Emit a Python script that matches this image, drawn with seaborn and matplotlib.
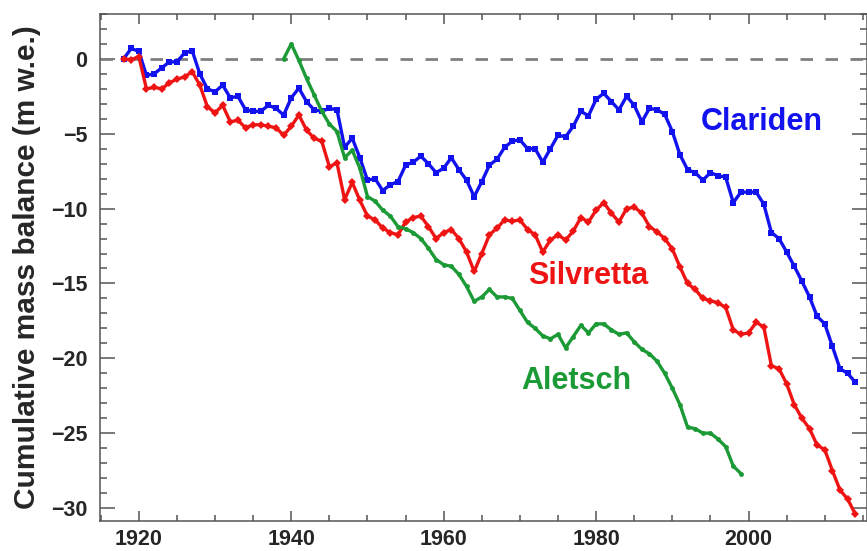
import numpy as np
import pandas as pd
import matplotlib
matplotlib.use('Agg')
import matplotlib.pyplot as plt
import seaborn as sns
from matplotlib.ticker import MultipleLocator

# cumulative mass balance (m w.e.)
clariden_years = list(range(1918, 2015))
clariden = [0.0, 0.7, 0.5, -1.1, -1.0, -0.6, -0.2, -0.2, 0.4, 0.55,
            -1.0, -2.0, -2.2, -1.75, -2.6, -2.5, -3.4, -3.5, -3.5, -3.1,
            -3.3, -3.75, -2.6, -1.95, -2.85, -3.4, -3.5, -3.3, -3.4, -5.9,
            -5.3, -6.6, -8.1, -8.0, -8.8, -8.4, -8.2, -7.1, -6.9, -6.5,
            -7.0, -7.6, -7.3, -6.6, -7.4, -8.1, -9.2, -8.2, -7.1, -6.7,
            -5.9, -5.5, -5.4, -6.0, -6.0, -6.9, -6.0, -5.1, -5.2, -4.5,
            -3.5, -3.8, -2.7, -2.3, -2.85, -3.4, -2.5, -3.1, -4.2, -3.3,
            -3.4, -3.7, -4.85, -6.4, -7.4, -7.6, -8.1, -7.6, -7.8, -7.9,
            -9.6, -8.9, -8.9, -8.9, -9.7, -11.6, -12.0, -12.9, -13.85, -14.85,
            -15.9, -17.2, -17.7, -19.2, -20.7, -21.0, -21.6]

silvretta_years = list(range(1918, 2015))
silvretta = [0.0, -0.05, 0.15, -2.0, -1.9, -2.0, -1.6, -1.35, -1.2, -0.85,
             -1.75, -3.2, -3.6, -3.1, -4.2, -4.1, -4.6, -4.4, -4.4, -4.5,
             -4.6, -5.1, -4.5, -3.75, -4.75, -5.3, -5.5, -7.2, -6.95, -9.4,
             -8.25, -9.45, -10.5, -10.75, -11.3, -11.6, -11.75, -10.9, -10.6, -10.5,
             -11.2, -12.0, -11.6, -11.4, -12.0, -12.9, -14.2, -13.0, -11.75, -11.3,
             -10.75, -10.85, -10.75, -11.4, -11.75, -12.9, -12.1, -11.75, -12.1, -11.5,
             -10.6, -10.9, -10.1, -9.6, -10.3, -10.9, -10.0, -9.9, -10.3, -11.2,
             -11.55, -12.0, -12.7, -13.9, -15.0, -15.4, -16.0, -16.15, -16.3, -16.6,
             -18.1, -18.4, -18.3, -17.6, -17.9, -20.5, -20.7, -21.7, -23.1, -24.0,
             -24.7, -25.8, -26.1, -27.5, -28.8, -29.4, -30.4]

aletsch_years = list(range(1939, 2000))
aletsch = [0.0, 1.0, -0.1, -1.3, -2.4, -3.5, -4.35, -4.85, -6.6, -6.1,
           -7.3, -9.2, -9.5, -10.1, -10.5, -11.2, -11.35, -11.6, -12.0, -12.65,
           -13.4, -13.75, -13.85, -14.4, -15.2, -16.2, -15.9, -15.4, -15.9, -15.9,
           -16.0, -16.8, -17.6, -18.0, -18.5, -18.7, -18.4, -19.3, -18.55, -17.8,
           -18.3, -17.7, -17.7, -18.1, -18.4, -18.3, -18.9, -19.4, -19.7, -20.2,
           -21.0, -22.0, -23.1, -24.6, -24.7, -25.0, -25.0, -25.4, -25.9, -27.2,
           -27.7]

names = ['Clariden', 'Silvretta', 'Aletsch']
colors = {'Clariden': '#1212ee', 'Silvretta': '#ee1414', 'Aletsch': '#1c9a36'}
markers = {'Clariden': 's', 'Silvretta': 'D', 'Aletsch': 'o'}
msize = {'Clariden': 4.5, 'Silvretta': 4.5, 'Aletsch': 3.5}

df = pd.concat([
    pd.DataFrame({'year': clariden_years, 'mb': clariden, 'glacier': 'Clariden'}),
    pd.DataFrame({'year': silvretta_years, 'mb': silvretta, 'glacier': 'Silvretta'}),
    pd.DataFrame({'year': aletsch_years, 'mb': aletsch, 'glacier': 'Aletsch'}),
])

sns.set_style('ticks')
plt.rcParams['font.family'] = ['Liberation Sans', 'DejaVu Sans']
plt.rcParams['font.weight'] = 'bold'

fig = plt.figure(figsize=(8.67, 5.51), dpi=100)
ax = fig.add_axes([0.1153, 0.0544, 0.8852, 0.9202])

ax.axhline(0, color='#808080', lw=2, ls=(0, (4.5, 4.5)), zorder=1)

for g in names:
    sub = df[df['glacier'] == g]
    sns.lineplot(data=sub, x='year', y='mb', ax=ax, color=colors[g],
                 marker=markers[g], markersize=msize[g], markeredgewidth=0,
                 lw=2.4, legend=False, zorder=3)

ax.set_xlim(1914.9, 2015.6)
ax.set_ylim(-30.87, 3.0)
ax.xaxis.set_major_locator(MultipleLocator(20))
ax.xaxis.set_minor_locator(MultipleLocator(5))
ax.yaxis.set_major_locator(MultipleLocator(5))
ax.yaxis.set_minor_locator(MultipleLocator(1))

ax.tick_params(direction='in', top=True, right=True, which='both',
               color='#555555', width=1.1, labelsize=15.5)
ax.tick_params(axis='y', which='major', length=11, pad=9)
ax.tick_params(axis='y', which='minor', length=5)
ax.tick_params(axis='x', which='major', length=7, pad=6)
ax.tick_params(axis='x', which='minor', length=4)
for lab in ax.get_xticklabels() + ax.get_yticklabels():
    lab.set_fontweight('bold')
for s in ax.spines.values():
    s.set_color('#555555')
    s.set_linewidth(1.1)

ax.set_xlabel('')
ax.set_ylabel('Cumulative mass balance (m w.e.)', fontsize=21.5,
              fontweight='bold', labelpad=7)

ax.text(2001.7, -4.2, 'Clariden', color=colors['Clariden'], fontsize=22,
        fontweight='bold', ha='center', va='center')
ax.text(1979.0, -14.5, 'Silvretta', color=colors['Silvretta'], fontsize=22,
        fontweight='bold', ha='center', va='center')
ax.text(1977.4, -21.5, 'Aletsch', color=colors['Aletsch'], fontsize=22,
        fontweight='bold', ha='center', va='center')

fig.savefig('out.png', dpi=100)
